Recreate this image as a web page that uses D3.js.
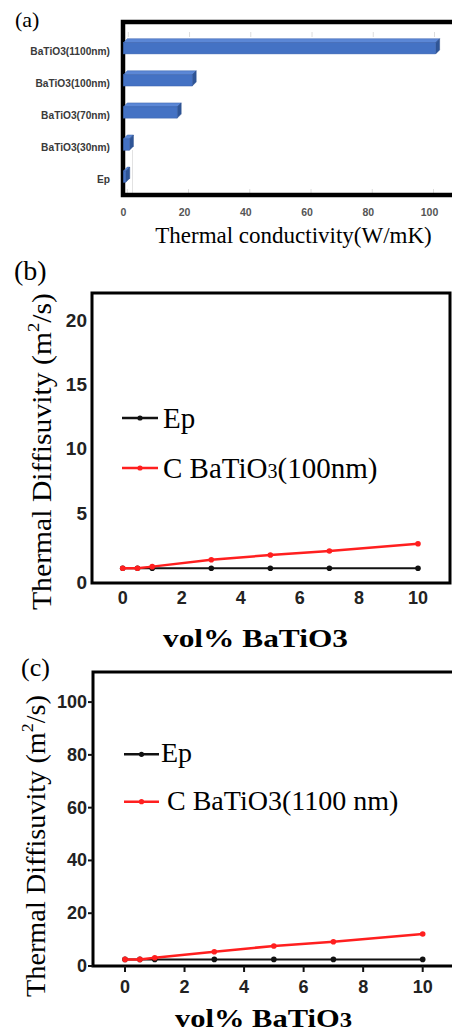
<!DOCTYPE html>
<html>
<head>
<meta charset="utf-8">
<script src="https://cdn.jsdelivr.net/npm/d3@7"></script>
<style>
  body { margin: 0; background: #fff; }
  svg { display: block; }
</style>
</head>
<body>
<script>
// ---- data ----
const barCategories = ['BaTiO3(1100nm)', 'BaTiO3(100nm)', 'BaTiO3(70nm)', 'BaTiO3(30nm)', 'Ep'];
const barValues = [102, 22.5, 17.6, 2, 0.8];
const barTicks = [0, 20, 40, 60, 80, 100];

const volPercent = [0, 0.5, 1, 3, 5, 7, 10];
const epDiffB = [0.75, 0.75, 0.75, 0.75, 0.75, 0.75, 0.75];
const bto100Diff = [0.75, 0.75, 0.87, 1.4, 1.77, 2.08, 2.65];
const epDiffC = [2.5, 2.5, 2.5, 2.5, 2.5, 2.5, 2.5];
const bto1100Diff = [2.5, 2.5, 3.1, 5.4, 7.6, 9.2, 12.1];

const volTicks = [0, 2, 4, 6, 8, 10];
const yTicksB = [0, 5, 10, 15, 20];
const yTicksC = [0, 20, 40, 60, 80, 100];

const svg = d3.select('body').append('svg')
    .attr('width', 452)
    .attr('height', 1033);

const serif = 'Liberation Serif';
const sans = 'Liberation Sans';

// ================= (a) 3D bar chart =================
const xA = d3.scaleLinear().domain([0, 100]).range([123.3, 429.5]);
const yA = d3.scaleBand().domain(barCategories)
    .range([32.25, 192.75]).paddingInner(0.65).paddingOuter(0.325);
const depth = 4;

const gA = svg.append('g');

// faint grid marks on back wall
barTicks.forEach(t => {
    gA.append('line')
        .attr('x1', xA(t) + depth + 1).attr('x2', xA(t) + depth + 1)
        .attr('y1', 32).attr('y2', 37)
        .attr('stroke', '#ddd').attr('stroke-width', 1);
    gA.append('line')
        .attr('x1', xA(t) + depth).attr('x2', xA(t) + depth)
        .attr('y1', 189).attr('y2', 193)
        .attr('stroke', '#ddd').attr('stroke-width', 1);
});
gA.append('line')
    .attr('x1', 132.5).attr('x2', 132.5).attr('y1', 150).attr('y2', 193)
    .attr('stroke', '#e2e2e2').attr('stroke-width', 1);

// frame (right side runs off the picture)
gA.append('path')
    .attr('d', 'M470,22 H123 V195 H470')
    .attr('fill', 'none')
    .attr('stroke', '#000')
    .attr('stroke-width', 4.5);

const bars = gA.selectAll('.bar')
    .data(barCategories.map((c, i) => ({ c, v: barValues[i] })))
    .enter().append('g').attr('class', 'bar');

bars.each(function(d) {
    const g = d3.select(this);
    const x0 = xA(0), x1 = xA(d.v);
    const y0 = yA(d.c), y1 = y0 + yA.bandwidth();
    // top face
    g.append('path')
        .attr('d', `M${x0},${y0} L${x0 + depth},${y0 - depth} L${x1 + depth},${y0 - depth} L${x1},${y0} Z`)
        .attr('fill', '#5b87d6').attr('stroke', '#3a62ad').attr('stroke-width', 0.5);
    // side face
    g.append('path')
        .attr('d', `M${x1},${y0} L${x1 + depth},${y0 - depth} L${x1 + depth},${y1 - depth} L${x1},${y1} Z`)
        .attr('fill', '#2f5597').attr('stroke', '#2a4d8a').attr('stroke-width', 0.5);
    // front face
    g.append('rect')
        .attr('x', x0).attr('y', y0)
        .attr('width', Math.max(0, x1 - x0)).attr('height', yA.bandwidth())
        .attr('fill', '#4472c4').attr('stroke', '#3a62ad').attr('stroke-width', 0.5);
});

// category labels
gA.selectAll('.cat')
    .data(barCategories)
    .enter().append('text')
    .attr('x', 110)
    .attr('y', d => yA(d) + yA.bandwidth() / 2 + 3)
    .attr('text-anchor', 'end')
    .attr('dominant-baseline', 'central')
    .style('font-family', sans)
    .style('font-weight', '700')
    .style('font-size', '10.2px')
    .style('fill', '#3a3a3a')
    .text(d => d);

// x tick labels
gA.selectAll('.xt')
    .data(barTicks)
    .enter().append('text')
    .attr('x', d => xA(d))
    .attr('y', 212)
    .attr('text-anchor', 'middle')
    .attr('dominant-baseline', 'central')
    .style('font-family', sans)
    .style('font-weight', '700')
    .style('font-size', '10.5px')
    .style('fill', '#555')
    .text(d => d);

gA.append('text')
    .attr('x', 293.5).attr('y', 243)
    .attr('text-anchor', 'middle')
    .style('font-family', serif)
    .style('font-size', '23px')
    .style('fill', '#000')
    .text('Thermal conductivity(W/mK)');

svg.append('text')
    .attr('x', 15).attr('y', 27)
    .style('font-family', serif)
    .style('font-size', '22px')
    .text('(a)');

// ================= line panels =================
function linePanel(o) {
    const g = svg.append('g');
    const x = d3.scaleLinear().domain([0, 10]).range(o.xRange);
    const y = d3.scaleLinear().domain(o.yDomain).range([o.bottom, o.top]);

    g.append('path')
        .attr('d', o.framePath)
        .attr('fill', 'none')
        .attr('stroke', '#000')
        .attr('stroke-width', 3);

    if (o.ticks) {
        o.yTicks.forEach(t => {
            g.append('line')
                .attr('x1', o.left - 5).attr('x2', o.left)
                .attr('y1', y(t)).attr('y2', y(t))
                .attr('stroke', '#111').attr('stroke-width', 2);
        });
        volTicks.forEach(t => {
            g.append('line')
                .attr('x1', x(t)).attr('x2', x(t))
                .attr('y1', o.bottom).attr('y2', o.bottom + 6)
                .attr('stroke', '#111').attr('stroke-width', 2);
        });
    }

    g.selectAll('.yt')
        .data(o.yTicks)
        .enter().append('text')
        .attr('x', 87)
        .attr('y', d => y(d) + o.yLabelShift(d))
        .attr('text-anchor', 'end')
        .attr('dominant-baseline', 'central')
        .style('font-family', sans)
        .style('font-weight', '700')
        .style('font-size', o.yTickSize)
        .style('fill', '#222')
        .text(d => d);

    g.selectAll('.xt')
        .data(volTicks)
        .enter().append('text')
        .attr('x', d => x(d))
        .attr('y', o.xLabelY)
        .attr('text-anchor', 'middle')
        .attr('dominant-baseline', 'central')
        .style('font-family', sans)
        .style('font-weight', '700')
        .style('font-size', '18px')
        .style('fill', '#222')
        .text(d => d);

    const line = d3.line().x(d => x(d[0])).y(d => y(d[1]));
    const series = [
        { vals: o.ep, color: '#111', w: 2 },
        { vals: o.bto, color: '#ff1f1f', w: 2.5 }
    ];
    series.forEach(s => {
        const pts = d3.zip(volPercent, s.vals);
        g.append('path')
            .datum(pts)
            .attr('d', line)
            .attr('fill', 'none')
            .attr('stroke', s.color)
            .attr('stroke-width', s.w);
        g.selectAll(null)
            .data(pts)
            .enter().append('circle')
            .attr('cx', d => x(d[0]))
            .attr('cy', d => y(d[1]))
            .attr('r', 2.8)
            .attr('fill', s.color);
    });

    // legend
    const leg = [
        { color: '#111', y: o.legY[0], base: o.legBase[0], label: o.legLabels[0] },
        { color: '#ff1f1f', y: o.legY[1], base: o.legBase[1], label: o.legLabels[1] }
    ];
    leg.forEach(l => {
        g.append('line')
            .attr('x1', o.legX[0]).attr('x2', o.legX[1])
            .attr('y1', l.y).attr('y2', l.y)
            .attr('stroke', l.color).attr('stroke-width', 2.5);
        g.append('circle')
            .attr('cx', (o.legX[0] + o.legX[1]) / 2)
            .attr('cy', l.y).attr('r', 2.6)
            .attr('fill', l.color);
        const t = g.append('text')
            .attr('x', l.label.x).attr('y', l.base)
            .style('font-family', serif)
            .style('font-size', o.legSize)
            .style('fill', '#000');
        l.label.parts.forEach(p => {
            t.append('tspan').style('font-size', p.size || null).text(p.t);
        });
    });

    // y title
    const yt = g.append('text')
        .attr('transform', `translate(${o.yTitle.x},${o.yTitle.y}) rotate(-90)`)
        .attr('text-anchor', 'middle')
        .attr('dominant-baseline', 'central')
        .attr('textLength', o.yTitle.len)
        .attr('lengthAdjust', 'spacingAndGlyphs')
        .style('font-family', serif)
        .style('font-size', '27px')
        .style('fill', '#000');
    yt.append('tspan').text('Thermal Diffisuvity (m');
    yt.append('tspan').attr('dy', -9).style('font-size', '17px').text('2');
    yt.append('tspan').attr('dy', 9).text('/s)');

    // x title
    const xt = g.append('text')
        .attr('x', o.xTitle.x).attr('y', o.xTitle.y)
        .attr('text-anchor', 'middle')
        .attr('textLength', o.xTitle.len)
        .attr('lengthAdjust', 'spacingAndGlyphs')
        .style('font-family', serif)
        .style('font-weight', '700')
        .style('font-size', '26px')
        .style('fill', '#000');
    xt.append('tspan').text('vol% BaTiO');
    xt.append('tspan').style('font-size', o.xTitle.subSize).text('3');

    svg.append('text')
        .attr('x', o.tag.x).attr('y', o.tag.y)
        .style('font-family', serif)
        .style('font-size', o.tag.size)
        .text(o.tag.t);
}

// (b)
linePanel({
    xRange: [122.7, 418],
    yDomain: [-0.4, 22.1],
    top: 293, bottom: 583, left: 92,
    framePath: 'M92,293 H450 V583 H92 Z',
    ticks: false,
    yTicks: yTicksB,
    yLabelShift: d => (d === 0 ? 5 : 0),
    yTickSize: '19px',
    xLabelY: 598,
    ep: epDiffB, bto: bto100Diff,
    legX: [122, 158], legY: [418, 468], legBase: [428, 477.5], legSize: '29px',
    legLabels: [
        { x: 163, parts: [{ t: 'Ep' }] },
        { x: 163, parts: [{ t: 'C BaTiO' }, { t: '3', size: '20px' }, { t: '(100nm)' }] }
    ],
    yTitle: { x: 42, y: 451.5, len: 317 },
    xTitle: { x: 255.5, y: 647, len: 185, subSize: '26px' },
    tag: { x: 14, y: 280, t: '(b)', size: '28px' }
});

// (c)
linePanel({
    xRange: [125, 422.7],
    yDomain: [0, 111.4],
    top: 672, bottom: 966, left: 93,
    framePath: 'M470,672 H93 V966 H470',
    ticks: true,
    yTicks: yTicksC,
    yLabelShift: () => 0,
    yTickSize: '18px',
    xLabelY: 987,
    ep: epDiffC, bto: bto1100Diff,
    legX: [124, 159], legY: [754.3, 801.7], legBase: [762, 809.5], legSize: '28px',
    legLabels: [
        { x: 161, parts: [{ t: 'Ep' }] },
        { x: 167, parts: [{ t: 'C BaTiO3(1100 nm)' }] }
    ],
    yTitle: { x: 36, y: 846, len: 302 },
    xTitle: { x: 263.5, y: 1027, len: 177, subSize: '21px' },
    tag: { x: 21, y: 676, t: '(c)', size: '26px' }
});
</script>
</body>
</html>
